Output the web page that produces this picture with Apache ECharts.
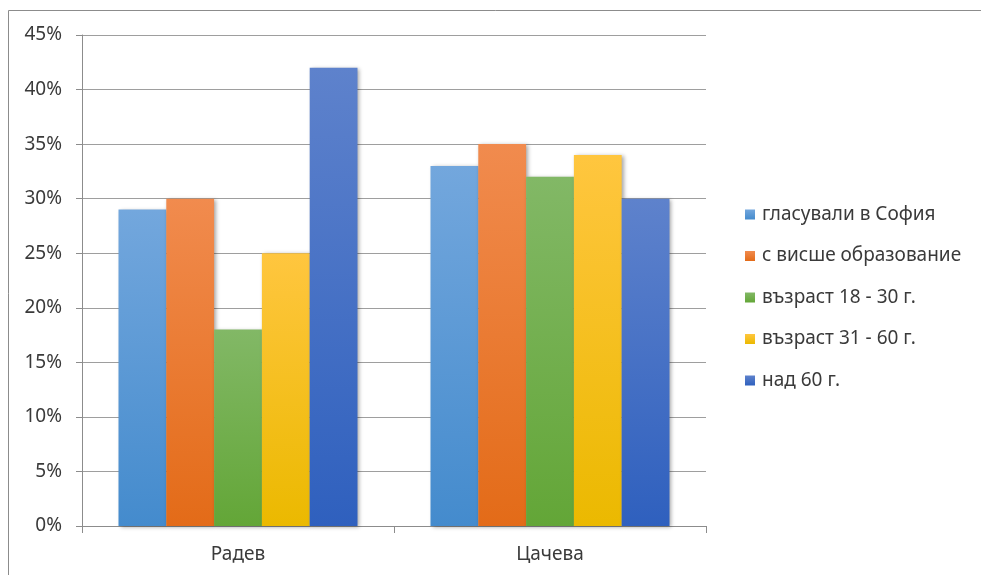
<!DOCTYPE html>
<html>
<head>
<meta charset="utf-8">
<script src="https://cdn.jsdelivr.net/npm/echarts@6/dist/echarts.min.js"></script>
<style>
  html, body { margin: 0; padding: 0; background: #fff; }
  #chart { width: 981px; height: 575px; }
</style>
</head>
<body>
<div id="chart"></div>
<script>
// Candidates on the category axis
const categories = ['Радев', 'Цачева'];

// Voter groups (one series each), values in percent
const groupNames = [
  'гласували в София',
  'с висше образование',
  'възраст 18 - 30 г.',
  'възраст 31 - 60 г.',
  'над 60 г.'
];
const sofiaVoters   = [29, 33];
const higherEdu     = [30, 35];
const age18to30     = [18, 32];
const age31to60     = [25, 34];
const over60        = [42, 30];

// Y axis range / step (percent)
const yMin = 0, yMax = 45, yStep = 5;

const seriesValues = [sofiaVoters, higherEdu, age18to30, age31to60, over60];

// Top / bottom colours of each bar gradient
const gradientStops = [
  ['#73a7dd', '#448bcd'],
  ['#f18b4e', '#e36b18'],
  ['#82b866', '#63a637'],
  ['#ffc63f', '#ebb900'],
  ['#5e82cc', '#2f60be']
];

const fontFamily = '"Noto Sans", sans-serif';
const textColor = '#3a3a3a';
const fontSize = 19;

const chart = echarts.init(document.getElementById('chart'), null, { renderer: 'canvas' });

const series = seriesValues.map((vals, i) => ({
  name: groupNames[i],
  type: 'bar',
  data: vals,
  barGap: '0%',
  barCategoryGap: '23.4%',
  itemStyle: {
    color: new echarts.graphic.LinearGradient(0, 0, 0, 1, [
      { offset: 0, color: gradientStops[i][0] },
      { offset: 1, color: gradientStops[i][1] }
    ]),
    shadowColor: 'rgba(0,0,0,0.35)',
    shadowBlur: 4,
    shadowOffsetX: 2,
    shadowOffsetY: 1
  },
  emphasis: { disabled: true }
}));

chart.setOption({
  animation: false,
  backgroundColor: '#ffffff',
  graphic: [{
    type: 'rect',
    shape: { x: 8.5, y: 10.5, width: 1200, height: 800 },
    style: { fill: 'none', stroke: '#8c8c8c', lineWidth: 1 },
    silent: true,
    z: -1
  }],
  grid: { left: 82, top: 35, width: 624, height: 491, containLabel: false },
  legend: {
    orient: 'vertical',
    left: 740,
    top: 200,
    itemWidth: 10,
    itemHeight: 10,
    itemGap: 22.5,
    icon: 'rect',
    textStyle: { fontFamily, fontSize, lineHeight: 19, color: textColor, padding: [0, 0, 0, 2] },
    data: groupNames
  },
  xAxis: {
    type: 'category',
    data: categories,
    axisLine: { show: true, lineStyle: { color: '#8c8c8c', width: 1 } },
    axisTick: { show: true, length: 7, lineStyle: { color: '#8c8c8c' } },
    axisLabel: { margin: 19, fontFamily, fontSize, color: textColor },
    splitLine: { show: false }
  },
  yAxis: {
    type: 'value',
    min: yMin,
    max: yMax,
    interval: yStep,
    axisLine: { show: true, lineStyle: { color: '#8c8c8c', width: 1 } },
    axisTick: { show: true, length: 6, lineStyle: { color: '#8c8c8c' } },
    axisLabel: {
      margin: 20,
      fontFamily,
      fontSize,
      color: textColor,
      formatter: v => v + '%'
    },
    splitLine: { show: true, lineStyle: { color: '#9e9e9e', width: 1 } }
  },
  series
});
</script>
</body>
</html>
